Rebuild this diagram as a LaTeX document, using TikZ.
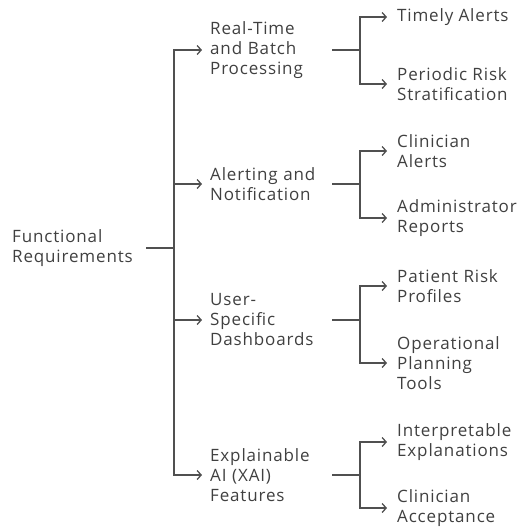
\documentclass[tikz,border=0pt]{standalone}
\usepackage{fontspec}
\setmainfont{Open Sans}[LetterSpace=5]
\usetikzlibrary{arrows.meta}
\definecolor{testo}{HTML}{404040}
\definecolor{linea}{HTML}{505050}

\begin{document}
\begin{tikzpicture}[x=1pt, y=-1pt,
    voce/.style={anchor=west, align=left, inner ysep=0pt, inner xsep=8pt,
        text=testo, font=\fontsize{17}{20}\selectfont},
    ramo/.style={voce, text width=114pt},
    foglia/.style={voce, inner xsep=10pt},
    linea/.style={draw=linea, line width=1.3pt},
    freccia/.style={linea, -{Straight Barb[length=4pt, width=9pt, line width=1.3pt]}}]
    \useasboundingbox (0,0) rectangle (517,531);
    %radice
    \node[voce, inner xsep=0pt, text width=134pt] (root) at (12,248) {Functional\\Requirements};
    \coordinate (trunk) at (174,248);
    %rami
    \node[ramo] (rt) at (202,50) {Real-Time\\and Batch\\Processing};
    \node[ramo] (an) at (202,184) {Alerting and\\Notification};
    \node[ramo] (ud) at (202,320) {User-\\Specific\\Dashboards};
    \node[ramo] (xai) at (202,475) {Explainable\\AI (XAI)\\Features};
    %foglie
    \node[foglia] (ta) at (387,17) {Timely Alerts};
    \node[foglia] (prs) at (387,84) {Periodic Risk\\Stratification};
    \node[foglia] (ca) at (387,151) {Clinician\\Alerts};
    \node[foglia] (ar) at (387,218) {Administrator\\Reports};
    \node[foglia] (prp) at (387,286) {Patient Risk\\Profiles};
    \node[foglia] (opt) at (387,363) {Operational\\Planning\\Tools};
    \node[foglia] (ie) at (387,442) {Interpretable\\Explanations};
    \node[foglia] (cac) at (387,508) {Clinician\\Acceptance};
    %giunzioni
    \coordinate (jrt) at (360,50);
    \coordinate (jan) at (360,184);
    \coordinate (jud) at (360,320);
    \coordinate (jxai) at (360,475);
    %tronco
    \draw[linea] (root.east) -- (trunk);
    \draw[freccia] (trunk) |- (rt.west);
    \draw[freccia] (trunk) |- (an.west);
    \draw[freccia] (trunk) |- (ud.west);
    \draw[freccia] (trunk) |- (xai.west);
    %sottorami
    \draw[linea] (rt.east) -- (jrt);
    \draw[freccia] (jrt) |- (ta.west);
    \draw[freccia] (jrt) |- (prs.west);
    \draw[linea] (an.east) -- (jan);
    \draw[freccia] (jan) |- (ca.west);
    \draw[freccia] (jan) |- (ar.west);
    \draw[linea] (ud.east) -- (jud);
    \draw[freccia] (jud) |- (prp.west);
    \draw[freccia] (jud) |- (opt.west);
    \draw[linea] (xai.east) -- (jxai);
    \draw[freccia] (jxai) |- (ie.west);
    \draw[freccia] (jxai) |- (cac.west);
\end{tikzpicture}
\end{document}
